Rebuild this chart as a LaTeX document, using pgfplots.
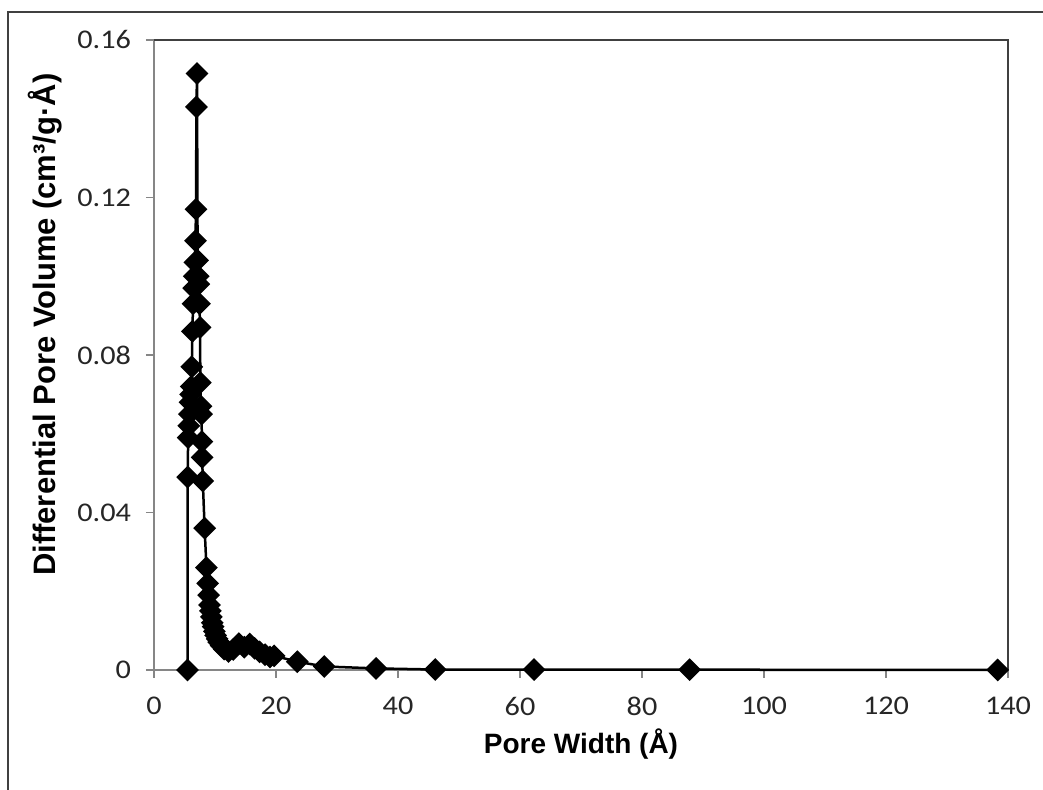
\documentclass[border=0pt]{standalone}
\usepackage{fontspec}
\setmainfont{Carlito}
\newfontfamily\tickfont{Carlito}[FakeStretch=1.12]
\newfontfamily\arialfont{Liberation Sans}
\usepackage{pgfplots}
\pgfplotsset{compat=1.18}
\definecolor{axgrey}{HTML}{868686}
\definecolor{bordergrey}{HTML}{404040}
\begin{document}
\begin{tikzpicture}
\begin{axis}[
  at={(77pt,60pt)}, anchor=south west,
  scale only axis, width=427pt, height=315pt,
  xmin=0, xmax=140, ymin=0, ymax=0.16,
  xtick={0,20,40,60,80,100,120,140},
  xticklabels={0,20,40,60,80,100,120,140},
  ytick={0,0.04,0.08,0.12,0.16},
  yticklabels={0,0.04,0.08,0.12,0.16},
  scaled y ticks=false,
  tick align=outside, major tick length=4pt,
  xtick pos=left, ytick pos=left,
  axis line style={axgrey, line width=0.6pt},
  every tick/.style={axgrey, line width=0.6pt},
  xticklabel style={font=\tickfont\fontsize{13.5}{15}\selectfont, text=black!85, yshift=-6pt},
  yticklabel style={font=\tickfont\fontsize{13.5}{15}\selectfont, text=black!85, xshift=-4pt},
  xlabel={Pore Width (Å)},
  ylabel={Differential Pore Volume (cm³/g·Å)},
  every axis x label/.style={at={(axis description cs:0.5,-0.117)}, anchor=center, font=\arialfont\bfseries\fontsize{14}{16}\selectfont},
  every axis y label/.style={at={(axis description cs:-0.1276,0.548)}, anchor=center, rotate=90, font=\arialfont\bfseries\fontsize{15.5}{17}\selectfont},
  clip=false,
]
\addplot[black, line width=1.25pt, mark=square*, mark size=3.4pt, mark options={rotate=45, solid, fill=black}] coordinates {
(5.50,0) (5.52,0.049) (5.60,0.059) (5.70,0.062) (5.80,0.065) (5.90,0.068)
(6.00,0.070) (6.10,0.072) (6.20,0.077) (6.30,0.086) (6.40,0.093) (6.50,0.097)
(6.60,0.100) (6.70,0.1035) (6.80,0.109) (6.88,0.117) (6.96,0.143) (7.05,0.1515)
(7.15,0.104) (7.25,0.100) (7.35,0.098) (7.45,0.093) (7.55,0.087) (7.60,0.073)
(7.70,0.067) (7.80,0.065) (7.85,0.058) (7.90,0.054) (8.00,0.048) (8.30,0.036)
(8.60,0.026) (8.80,0.022) (8.95,0.019) (9.10,0.0165) (9.25,0.0150) (9.40,0.0135)
(9.55,0.012) (9.70,0.011) (9.90,0.0098) (10.10,0.0088) (10.35,0.0079) (10.60,0.0071)
(11.0,0.0062) (11.5,0.0053) (12.2,0.0047) (13.0,0.0052) (13.9,0.0067) (14.8,0.0058)
(15.7,0.0066) (16.5,0.0055) (17.3,0.0046) (18.2,0.0039) (19.0,0.0033) (19.7,0.0036)
(23.5,0.0021) (27.9,0.0009) (36.4,0.0004) (46.1,0.00012) (62.3,0.0001) (87.8,0.00008)
(138.3,0)
};
\draw[bordergrey, line width=1pt] (rel axis cs:0,1) -- (rel axis cs:1,1) -- (rel axis cs:1,0);
\end{axis}
\draw[bordergrey, line width=1.2pt] (4pt,-2pt) -- (4pt,389pt) -- (525pt,389pt);
\pgfresetboundingbox
\useasboundingbox (0,0) rectangle (521.5pt,395pt);
\end{tikzpicture}
\end{document}
